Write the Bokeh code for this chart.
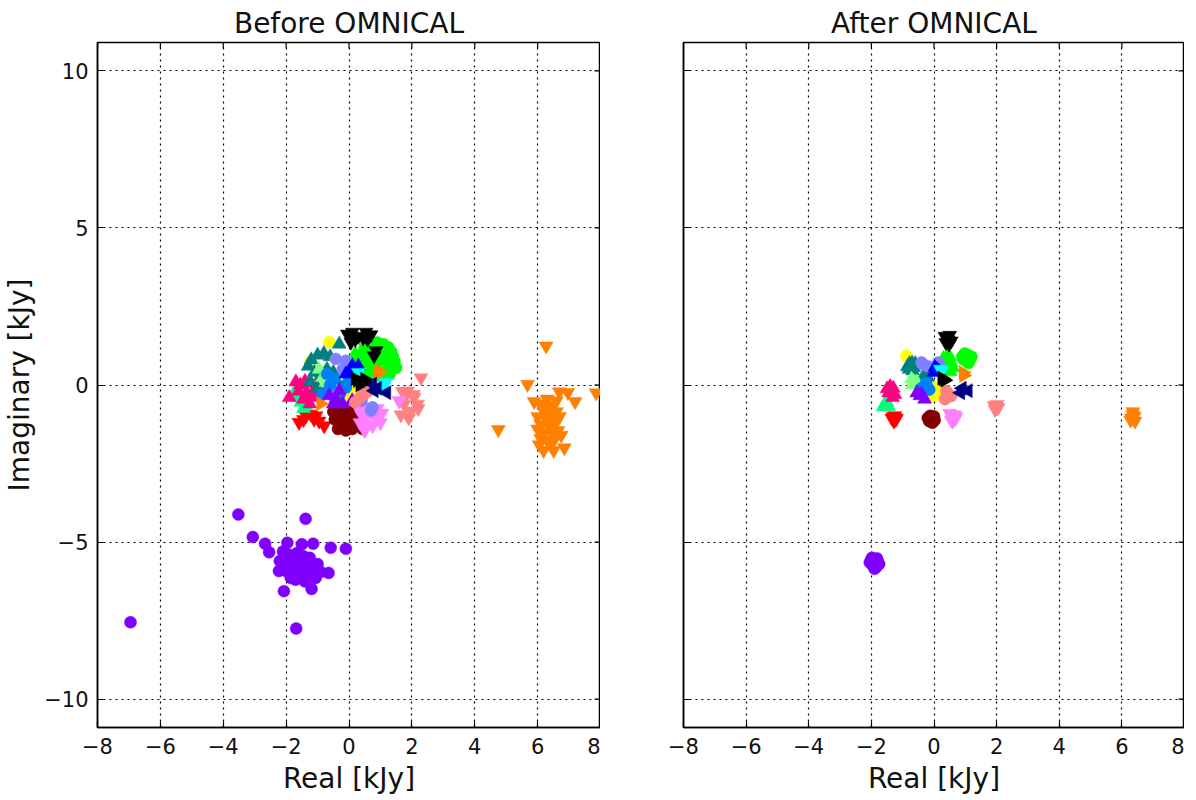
import math
from bokeh.plotting import figure
from bokeh.layouts import row
from bokeh.models import FixedTicker, Range1d
from bokeh.embed import file_html
from bokeh.resources import INLINE

# ---------------- data ----------------
X_TICKS = [-8, -6, -4, -2, 0, 2, 4, 6, 8]
Y_TICKS = [-10, -5, 0, 5, 10]
X_LIM = (-8, 8)
Y_LIM = (-10.9, 10.9)
TITLES = ["Before OMNICAL", "After OMNICAL"]
X_LABEL = "Real [kJy]"
Y_LABEL = "Imaginary [kJy]"

PURPLE_BX = [-6.95, -3.52, -1.38, -3.06, -1.68, -2.07, -1.19, -0.65, -0.10, -0.58, -1.14, -1.50, -1.96, -2.67, -2.54,
             -2.23, -1.85, -1.06, -2.10, -2.00, -1.90, -1.80, -1.70, -1.60, -1.50, -1.40, -1.30, -1.20, -1.10, -1.35,
             -1.55, -1.75, -2.05, -1.95, -1.65, -1.45, -1.25, -1.00, -0.90, -1.15, -2.20, -1.70, -1.40]
PURPLE_BY = [-7.55, -4.12, -4.26, -4.84, -7.75, -6.56, -6.49, -5.98, -5.21, -5.18, -5.05, -5.07, -5.02, -5.05, -5.32,
             -5.92, -6.14, -6.14, -5.30, -5.50, -5.40, -5.60, -5.50, -5.70, -5.80, -5.60, -5.90, -5.75, -5.85, -6.00,
             -6.05, -5.85, -5.75, -5.95, -5.35, -5.45, -5.50, -5.70, -5.95, -6.10, -5.60, -6.20, -6.25]
PURPLE_AX = [-2.00, -1.80, -1.95, -1.85, -2.05, -1.75, -1.90, -1.88, -1.98, -1.82]
PURPLE_AY = [-5.55, -5.60, -5.75, -5.80, -5.65, -5.70, -5.85, -5.62, -5.50, -5.52]

ORANGE_BX = [6.27, 5.68, 6.69, 6.96, 7.19, 7.86, 5.89, 6.19, 6.51, 6.85, 4.75,
             6.10, 6.30, 6.50, 6.20, 6.40, 6.60, 6.00, 6.25, 6.45, 6.70, 6.10, 6.35, 6.55, 6.00, 6.20, 6.45,
             6.65, 6.10, 6.30, 6.55, 6.40, 6.05, 6.75, 6.30, 6.60]
ORANGE_BY = [1.24, 0.02, -0.22, -0.24, -0.53, -0.25, -0.53, -2.08, -2.08, -2.00, -1.42,
             -0.60, -0.70, -0.65, -0.85, -0.90, -0.85, -1.00, -1.05, -1.10, -1.00, -1.25, -1.30, -1.25, -1.40,
             -1.50, -1.50, -1.45, -1.70, -1.75, -1.70, -1.90, -1.90, -1.60, -0.45, -0.50]
ORANGE_AX = [6.35, 6.30, 6.40, 6.35, 6.28, 6.42]
ORANGE_AY = [-0.95, -1.05, -1.00, -0.85, -1.12, -1.15]

SALMON_BX = [2.29, 1.86, 2.07, 1.75, 1.97, 2.18, 1.60, 1.65, 1.90, 2.05, 1.70, 2.20, 1.80]
SALMON_BY = [0.23, -0.19, -0.40, -0.61, -0.83, -0.61, -0.51, -0.95, -1.05, -0.30, -0.20, -0.75, -0.35]
SALMON_AX = [1.98, 1.92, 2.05, 1.95, 2.02]
SALMON_AY = [-0.70, -0.65, -0.72, -0.78, -0.62]

LIME_O_BX = [0.70, 0.90, 1.10, 1.25, 1.35, 1.40, 1.45, 1.30, 1.20, 1.00, 0.85, 0.65, 0.60, 0.80, 1.00, 1.15, 0.95,
             1.30, 1.50, 0.50]
LIME_O_BY = [1.30, 1.35, 1.30, 1.20, 1.05, 0.90, 0.75, 0.60, 0.45, 0.30, 0.50, 0.70, 1.00, 1.10, 1.00, 0.85, 0.75,
             0.35, 0.55, 1.20]
LIME_O_AX = [1.00, 1.10, 0.95, 1.05, 1.15, 0.98, 1.08, 1.20, 0.90, 1.10]
LIME_O_AY = [0.90, 0.95, 0.80, 0.85, 0.82, 1.00, 0.75, 0.90, 0.90, 0.70]

LIME_T_BX = [0.20, 0.35, 0.50, 0.30, 0.60, 0.45, 0.15, 0.75]
LIME_T_BY = [1.00, 0.85, 0.65, 0.50, 0.40, 1.10, 0.75, 0.25]
LIME_T_AX = [0.40, 0.45, 0.35, 0.50, 0.42, 0.55, 0.30, 0.60, 0.52]
LIME_T_AY = [0.88, 0.80, 0.75, 0.90, 0.65, 0.70, 0.85, 0.55, 0.42]

BLACK_V_BX = [-0.05, 0.11, 0.54, 0.59, 0.06, 0.86, 0.80, 0.30, 0.70, 0.20, 0.45]
BLACK_V_BY = [1.62, 1.68, 1.68, 1.46, 1.36, 1.09, 0.93, 1.55, 1.60, 1.45, 1.50]
BLACK_V_AX = [0.35, 0.50, 0.45, 0.38, 0.55, 0.42, 0.48]
BLACK_V_AY = [1.55, 1.58, 1.42, 1.35, 1.40, 1.50, 1.30]

BLACK_R_BX = [0.27, 0.43, 0.20, 0.35, 0.50]
BLACK_R_BY = [0.14, 0.08, 0.20, 0.00, 0.18]
BLACK_R_AX = [0.29, 0.35, 0.25]
BLACK_R_AY = [0.19, 0.15, 0.22]

TEAL_BX = [-1.30, -1.20, -1.00, -0.80, -0.60, -1.10, -0.90, -0.70, -0.50, -1.25, -1.00, -0.75, -0.55, -0.31, -0.40,
           -0.20]
TEAL_BY = [0.60, 0.80, 0.95, 1.00, 0.90, 0.40, 0.30, 0.50, 0.40, 0.10, -0.10, -0.20, -0.05, 1.30, 0.15, -0.10]
TEAL_AX = [-0.72, -0.65, -0.80, -0.70, -0.78, -0.29, -0.35, -0.25, -0.60, -0.85, -0.68, -0.20, -0.32]
TEAL_AY = [0.62, 0.55, 0.50, 0.70, 0.68, 0.19, 0.25, 0.10, 0.68, 0.58, 0.45, 0.25, 0.05]

YELLOW_BX = [-0.63, -1.21, 0.01, -0.10, 0.10, 0.20]
YELLOW_BY = [1.36, 0.77, -0.18, -0.30, -0.05, -0.40]
YELLOW_AX = [-0.88, -0.03, 0.05, -0.08, 0.10, -0.10]
YELLOW_AY = [0.93, -0.07, -0.15, -0.20, -0.30, -0.35]

PINK_BX = [-1.69, -1.55, -1.40, -1.20, -1.05, -1.60, -1.35, -1.15, -1.45, -1.00, -1.90, -1.25]
PINK_BY = [0.10, 0.00, 0.12, 0.05, -0.05, -0.20, -0.25, -0.30, -0.45, -0.40, -0.40, -0.60]
PINK_AX = [-1.36, -1.30, -1.45, -1.25, -1.40, -1.50, -1.32]
PINK_AY = [-0.18, -0.10, -0.25, -0.30, -0.05, -0.12, -0.40]

SPRING_BX = [-1.74, -1.53, -1.37, -1.45, -1.60]
SPRING_BY = [-0.24, -0.55, -0.66, -0.75, -0.40]
SPRING_AX = [-1.57, -1.50, -1.62, -1.45]
SPRING_AY = [-0.60, -0.55, -0.70, -0.68]

RED_BX = [-1.59, -1.37, -1.21, -0.79, -1.05, -1.11, -1.45, -0.95]
RED_BY = [-1.19, -0.98, -0.93, -1.30, -0.98, -1.09, -1.10, -1.15]
RED_AX = [-1.25, -1.20, -1.30, -1.22, -1.28, -1.35]
RED_AY = [-0.98, -1.05, -1.00, -1.10, -1.15, -1.05]

MAROON_BX = [-0.50, -0.35, -0.20, 0.00, 0.15, -0.45, -0.25, -0.05, 0.20, -0.35, -0.10, 0.10, -0.15, 0.43]
MAROON_BY = [-0.85, -0.80, -0.95, -0.85, -1.00, -1.10, -1.20, -1.15, -1.25, -1.40, -1.45, -1.40, -1.30, -1.40]
MAROON_AX = [-0.08, 0.00, -0.15, -0.05, 0.02, -0.12, -0.20]
MAROON_AY = [-1.08, -1.00, -1.15, -1.20, -1.12, -0.98, -1.05]

VIOLET_BX = [0.30, 0.50, 0.70, 0.90, 1.05, 0.40, 0.60, 0.85, 0.35, 0.55, 0.75, 1.00, 0.50, 1.60]
VIOLET_BY = [-0.75, -0.70, -0.80, -0.75, -0.90, -0.95, -1.00, -1.05, -1.20, -1.25, -1.30, -1.20, -1.45, -0.50]
VIOLET_AX = [0.56, 0.60, 0.50, 0.65, 0.55, 0.68, 0.70, 0.60]
VIOLET_AY = [-0.98, -1.05, -0.90, -0.95, -1.12, -1.08, -1.00, -1.15]

NAVY_BX = [0.80, 0.75, 1.20, 0.90]
NAVY_BY = [-0.18, 0.03, -0.25, -0.10]
NAVY_AX = [1.09, 0.90, 0.85]
NAVY_AY = [-0.18, -0.10, -0.25]

CYAN_BX = [1.17, 1.10, 0.30]
CYAN_BY = [0.08, -0.05, 0.40]
CYAN_AX = [0.20, 0.25]
CYAN_AY = [0.50, 0.45]

DORANGE_BX = [0.96, 0.90, -0.90]
DORANGE_BY = [0.45, 0.35, -0.60]
DORANGE_AX = [0.93, 0.95]
DORANGE_AY = [0.40, 0.30]

BLUE_BX = [0.11, 0.05, 0.20, 0.30, -0.10]
BLUE_BY = [0.61, 0.50, 0.45, 0.60, 0.35]
BLUE_AX = [0.03, 0.08, 0.15, 0.00]
BLUE_AY = [0.56, 0.50, 0.45, 0.40]

SLATE_BX = [-0.42, -0.10, -0.52, 0.75, 0.70, 0.10, -0.20, 0.40]
SLATE_BY = [0.83, 0.77, -0.34, -0.71, -0.82, 0.30, 0.50, -0.50]
SLATE_AX = [-0.40, 0.13, -0.35, -0.20, 0.20]
SLATE_AY = [0.72, 0.72, 0.65, 0.60, 0.60]

PURPLE2_BX = [-0.63, -0.42, -0.31, -0.20, -0.50, 0.10]
PURPLE2_BY = [-0.34, -0.45, -0.18, -0.60, -0.60, -0.50]
PURPLE2_AX = [-0.45, -0.40, -0.55, -0.30]
PURPLE2_AY = [-0.34, -0.30, -0.25, -0.45]

DODGER_BX = [-0.84, -0.47, -0.10, -0.60, -0.30, 0.00, -0.70]
DODGER_BY = [-0.29, 0.19, -0.08, 0.00, -0.30, 0.20, 0.35]
DODGER_AX = [-0.29, -0.25, -0.40, -0.15]
DODGER_AY = [-0.02, 0.05, -0.10, -0.15]

LGREEN_BX = [-0.84, -0.74, -0.60, -0.95, -0.40]
LGREEN_BY = [0.24, 0.08, -0.10, 0.50, -0.50]
LGREEN_AX = [-0.72, -0.65, -0.55, -0.70]
LGREEN_AY = [0.19, 0.12, 0.10, 0.00]

CORAL_BX = [0.48, 0.35, 0.60, 0.20]
CORAL_BY = [-0.29, -0.40, -0.20, -0.55]
CORAL_AX = [0.45, 0.40, 0.55, 0.35]
CORAL_AY = [-0.29, -0.20, -0.35, -0.45]

# (colour, marker, angle, before x, before y, after x, after y)
GROUPS = [
    ("#8000FF", "circle", 0.0, PURPLE_BX, PURPLE_BY, PURPLE_AX, PURPLE_AY),
    ("#FF8000", "inverted_triangle", 0.0, ORANGE_BX, ORANGE_BY, ORANGE_AX, ORANGE_AY),
    ("#FF8080", "inverted_triangle", 0.0, SALMON_BX, SALMON_BY, SALMON_AX, SALMON_AY),
    ("#FF0000", "inverted_triangle", 0.0, RED_BX, RED_BY, RED_AX, RED_AY),
    ("#800000", "circle", 0.0, MAROON_BX, MAROON_BY, MAROON_AX, MAROON_AY),
    ("#FF80FF", "inverted_triangle", 0.0, VIOLET_BX, VIOLET_BY, VIOLET_AX, VIOLET_AY),
    ("#00FF80", "triangle", 0.0, SPRING_BX, SPRING_BY, SPRING_AX, SPRING_AY),
    ("#FF0080", "triangle", 0.0, PINK_BX, PINK_BY, PINK_AX, PINK_AY),
    ("#00FF00", "circle", 0.0, LIME_O_BX, LIME_O_BY, LIME_O_AX, LIME_O_AY),
    ("#00FF00", "triangle", 0.0, LIME_T_BX, LIME_T_BY, LIME_T_AX, LIME_T_AY),
    ("#FFFF00", "circle", 0.0, YELLOW_BX, YELLOW_BY, YELLOW_AX, YELLOW_AY),
    ("#008080", "triangle", 0.0, TEAL_BX, TEAL_BY, TEAL_AX, TEAL_AY),
    ("#80FF80", "triangle", 0.0, LGREEN_BX, LGREEN_BY, LGREEN_AX, LGREEN_AY),
    ("#8080FF", "circle", 0.0, SLATE_BX, SLATE_BY, SLATE_AX, SLATE_AY),
    ("#0080FF", "circle", 0.0, DODGER_BX, DODGER_BY, DODGER_AX, DODGER_AY),
    ("#8000FF", "triangle", 0.0, PURPLE2_BX, PURPLE2_BY, PURPLE2_AX, PURPLE2_AY),
    ("#0000FF", "triangle", 0.0, BLUE_BX, BLUE_BY, BLUE_AX, BLUE_AY),
    ("#00FFFF", "inverted_triangle", 0.0, CYAN_BX, CYAN_BY, CYAN_AX, CYAN_AY),
    ("#FF8000", "triangle", -math.pi / 2, DORANGE_BX, DORANGE_BY, DORANGE_AX, DORANGE_AY),
    ("#FF8080", "circle", 0.0, CORAL_BX, CORAL_BY, CORAL_AX, CORAL_AY),
    ("#000080", "triangle", math.pi / 2, NAVY_BX, NAVY_BY, NAVY_AX, NAVY_AY),
    ("#000000", "inverted_triangle", 0.0, BLACK_V_BX, BLACK_V_BY, BLACK_V_AX, BLACK_V_AY),
    ("#000000", "triangle", -math.pi / 2, BLACK_R_BX, BLACK_R_BY, BLACK_R_AX, BLACK_R_AY),
]

FONT = "DejaVu Sans"
TICK_LEN_X = 0.19   # inward tick length in data units (~6 px)
TICK_LEN_Y = 0.19


def fmt(v):
    return str(v).replace("-", "\u2212")


def style_axis(ax, ticks, show_labels):
    ax.ticker = FixedTicker(ticks=ticks)
    ax.major_label_overrides = {t: fmt(t) for t in ticks}
    ax.major_tick_in = 6
    ax.major_tick_out = 0
    ax.major_tick_line_color = "black"
    ax.major_tick_line_width = 1.2
    ax.minor_tick_line_color = None
    ax.axis_line_color = "black"
    ax.axis_line_width = 1.5
    ax.major_label_text_font = FONT
    ax.major_label_text_color = "#111111"
    ax.axis_label_text_font = FONT
    ax.axis_label_text_font_style = "normal"
    ax.axis_label_text_font_size = "28px"
    ax.axis_label_text_color = "#111111"
    ax.major_label_text_font_size = "21px"
    ax.major_label_standoff = 9
    if not show_labels:
        ax.major_label_text_color = None


def make_fig(title, bl, fw, show_y):
    p = figure(frame_width=fw, frame_height=685,
               x_range=Range1d(*X_LIM), y_range=Range1d(*Y_LIM),
               output_backend="svg", toolbar_location=None, title=title,
               min_border_left=bl, min_border_right=0, min_border_top=42, min_border_bottom=0)
    p.title.text_font = FONT
    p.title.text_font_size = "28px"
    p.title.text_font_style = "normal"
    p.title.text_color = "#111111"
    p.title.align = "center"
    p.title.standoff = 5
    p.outline_line_color = "black"
    p.outline_line_width = 1.5
    p.background_fill_color = "white"
    p.border_fill_color = "white"
    style_axis(p.xaxis[0], X_TICKS, True)
    p.xaxis[0].major_label_standoff = 10
    p.xaxis[0].axis_label = X_LABEL
    p.xaxis[0].axis_label_standoff = 5
    style_axis(p.yaxis[0], Y_TICKS, show_y)
    if show_y:
        p.yaxis[0].axis_label = Y_LABEL
        p.yaxis[0].axis_label_standoff = 5
    for g in (p.xgrid[0], p.ygrid[0]):
        g.grid_line_color = "black"
        g.grid_line_dash = "2 4"
        g.grid_line_width = 1.2
        g.grid_line_alpha = 1.0
    p.xgrid[0].ticker = FixedTicker(ticks=X_TICKS)
    p.ygrid[0].ticker = FixedTicker(ticks=Y_TICKS)
    # inward ticks on the top and right frame edges
    p.segment(x0=X_TICKS, x1=X_TICKS, y0=[Y_LIM[1]] * len(X_TICKS), y1=[Y_LIM[1] - TICK_LEN_Y] * len(X_TICKS),
              line_color="black", line_width=1.2)
    p.segment(x0=[X_LIM[1]] * len(Y_TICKS), x1=[X_LIM[1] - TICK_LEN_X] * len(Y_TICKS), y0=Y_TICKS, y1=Y_TICKS,
              line_color="black", line_width=1.2)
    return p


p1 = make_fig(TITLES[0], 97, 503, True)
p2 = make_fig(TITLES[1], 83, 501, False)

for color, marker, angle, bx, by, ax_, ay in GROUPS:
    size = 12 if marker == "circle" else 14
    p1.scatter(bx, by, marker=marker, size=size, angle=angle, fill_color=color, line_color=color, line_width=0.5)
    p2.scatter(ax_, ay, marker=marker, size=size, angle=angle, fill_color=color, line_color=color, line_width=0.5)

layout = row(p1, p2, spacing=0)
open("out.html", "w").write(file_html(layout, INLINE))
